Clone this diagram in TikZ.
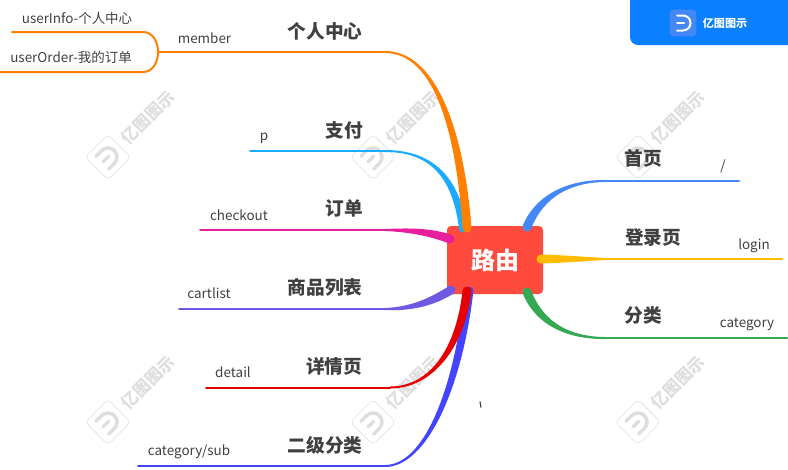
\documentclass[tikz,border=0pt]{standalone}
\usepackage{fontspec}
\setmainfont{Noto Sans CJK SC}
\usetikzlibrary{calc}
\definecolor{txt}{HTML}{404040}
\definecolor{rootred}{HTML}{FF4B3E}
\definecolor{cmember}{HTML}{FF7F00}
\definecolor{cpay}{HTML}{1AABFF}
\definecolor{corder}{HTML}{E91E9C}
\definecolor{clist}{HTML}{7158E2}
\definecolor{cdetail}{HTML}{E60000}
\definecolor{csub}{HTML}{4444FF}
\definecolor{chome}{HTML}{4488F5}
\definecolor{clogin}{HTML}{FFBB00}
\definecolor{ccat}{HTML}{34A853}
\definecolor{brand}{HTML}{0A7FFF}
\definecolor{wmgray}{HTML}{DEDEDE}
% tapered branch: colour, start, start offset, control 1, control 2, end, end offset
\newcommand{\taper}[7]{
  \fill[#1] ($(#2)+(#3)$) .. controls ($(#4)+0.9*(#3)$) and ($(#5)+0.25*(#3)+(#7)$) .. ($(#6)+(#7)$)
    -- ($(#6)-(#7)$) .. controls ($(#5)-0.25*(#3)-(#7)$) and ($(#4)-0.9*(#3)$) .. ($(#2)-(#3)$) -- cycle;
  \fill[#1] (#2) circle[radius=4.5];
}
\begin{document}
\begin{tikzpicture}[x=0.75pt,y=-0.75pt,
  root/.style={fill=rootred,rounded corners=3pt,minimum width=72pt,minimum height=51pt,inner sep=0pt,text=white,font=\fontsize{18}{20}\selectfont\bfseries},
  title/.style={text=txt,inner sep=0pt,font=\fontsize{14}{16}\selectfont\bfseries},
  leaf/.style={text=txt,inner sep=0pt,font=\fontsize{10.1}{12}\selectfont},
  wire/.style={line width=1.5pt,line cap=round},
  wmtext/.style={text=wmgray,inner sep=0pt,rotate=45,font=\fontsize{12.5}{14}\selectfont\bfseries},
  wmbox/.style={draw=wmgray,fill=white,rounded corners=3pt,rotate=45,minimum size=24pt,inner sep=0pt}]
  \useasboundingbox (0,0) rectangle (788,469);
  % watermarks
  \foreach \wx/\wy in {108/157,373/157,638/157,108/422,373/422,638/422}{
    \node[wmbox] (wb) at (\wx,\wy) {};
    \draw[wmgray,line width=2.6pt,line cap=round,rotate around={45:(\wx,\wy)}]
      (\wx-8,\wy-9) -- (\wx,\wy-9) arc[start angle=-90,end angle=90,radius=9] -- (\wx-8,\wy+9);
    \draw[wmgray,line width=2.6pt,line cap=round,rotate around={45:(\wx,\wy)}] (\wx-7,\wy) -- (\wx+1,\wy);
    \node[wmtext] (wt) at (\wx+40,\wy-39.5) {亿图图示};
  }
  % header
  \fill[brand] (630,0) -- (630,37) arc[start angle=180,end angle=90,radius=8] -- (788,45) -- (788,0) -- cycle;
  \node[fill=chome,rounded corners=3pt,minimum size=20pt,inner sep=0pt] (logo) at (683,23) {};
  \draw[white,line width=1.5pt,line cap=round] (677,15.5) -- (683,15.5) arc[start angle=-90,end angle=90,radius=7.5] -- (677,30.5);
  \draw[white,line width=1.5pt,line cap=round] (677,23) -- (684,23);
  \node[text=white,inner sep=0pt,font=\fontsize{8.3}{10}\selectfont\bfseries] (brandname) at (725,23) {亿图图示};
  % root
  \node[root] (router) at (495,260) {路由};
  % left side
  \coordinate (fork) at (158,52);
  \coordinate (infoEnd) at (12,32);
  \coordinate (orderEnd) at (0,72);
  \draw[cmember,wire] (infoEnd) -- (143,32) .. controls (153,32) and (158,42) .. (fork);
  \draw[cmember,wire] (orderEnd) -- (143,72) .. controls (153,72) and (158,62) .. (fork);
  \draw[cmember,wire] (fork) -- (385,52);
  \coordinate (payEnd) at (250,151);
  \draw[cpay,wire] (payEnd) -- (385,151);
  \taper{cpay}{463,228}{4,0}{455,170}{425,151}{385,151}{0,-1}
  \taper{cmember}{467,228}{4.5,0}{460,130}{435,52}{385,52}{0,-1}
  \coordinate (checkoutEnd) at (200,230);
  \draw[corder,wire] (checkoutEnd) -- (385,230);
  \taper{corder}{450,239}{0.9,-4.4}{430,232}{410,230}{385,230}{0,-1}
  \coordinate (listEnd) at (179,309);
  \draw[clist,wire] (listEnd) -- (385,309);
  \taper{clist}{451,290}{1.6,4.2}{430,303}{410,309}{385,309}{0,1}
  \coordinate (subEnd) at (138,466);
  \draw[csub,wire] (subEnd) -- (385,466);
  \taper{csub}{469,291}{4.4,0}{458,390}{425,466}{385,466}{0,1}
  \coordinate (detailEnd) at (206,387.5);
  \draw[cdetail,wire] (detailEnd) -- (390,387.5);
  \taper{cdetail}{467,291}{4.5,0}{460,350}{430,387.5}{390,387.5}{0,1}
  % right side
  \coordinate (homeEnd) at (739,181);
  \draw[chome,wire] (605,181) -- (homeEnd);
  \taper{chome}{527,227}{4.2,1.5}{540,195}{570,181}{605,181}{0,1}
  \coordinate (loginEnd) at (782,259);
  \draw[clogin,wire] (605,259) -- (loginEnd);
  \taper{clogin}{541,259}{0,4.5}{560,259}{585,259}{605,259}{0,1}
  \coordinate (catEnd) at (787,338);
  \draw[ccat,wire] (605,338) -- (catEnd);
  \taper{ccat}{527,292}{4.2,-1.5}{540,325}{570,338}{605,338}{0,-1}
  % titles
  \node[title] (tMember) at (325,31) {个人中心};
  \node[title] (tPay) at (344,130) {支付};
  \node[title] (tOrder) at (344,208) {订单};
  \node[title] (tList) at (325,287) {商品列表};
  \node[title] (tDetail) at (334,366) {详情页};
  \node[title] (tSub) at (325,445) {二级分类};
  \node[title] (tHome) at (643,158) {首页};
  \node[title] (tLogin) at (653,237) {登录页};
  \node[title] (tCat) at (643,315) {分类};
  % leaves
  \node[leaf] (lInfo) at (77,18) {userInfo-个人中心};
  \node[leaf] (lOrder) at (71,57.5) {userOrder-我的订单};
  \node[leaf] (lMember) at (204.5,38) {member};
  \node[leaf] (lPay) at (264,138) {p};
  \node[leaf] (lCheckout) at (239,215) {checkout};
  \node[leaf] (lList) at (209,293) {cartlist};
  \node[leaf] (lDetail) at (233,372) {detail};
  \node[leaf] (lSub) at (189,452) {category/sub};
  \node[leaf] (lHome) at (723,166) {/};
  \node[leaf] (lLogin) at (754,245.5) {login};
  \node[leaf] (lCat) at (747,324.5) {category};
  \draw[txt,line width=0.9pt] (480,401.5) -- (481,407.5);
\end{tikzpicture}
\end{document}
